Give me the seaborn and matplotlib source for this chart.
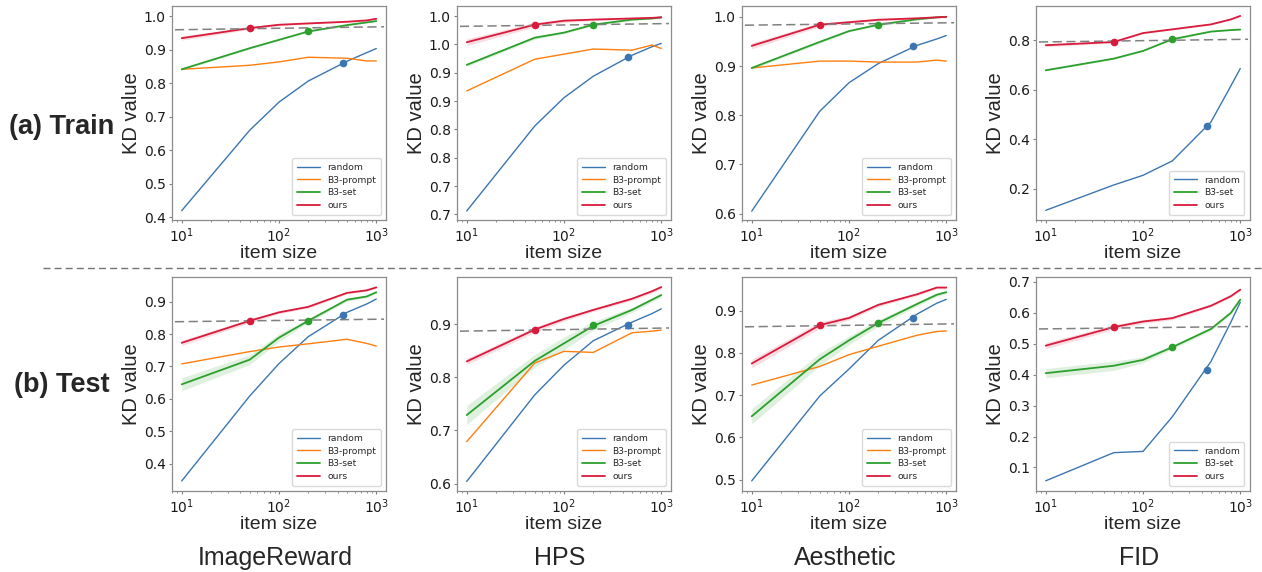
"""
KD value vs. item size for the four reward metrics, train and test splits.
"""

import matplotlib.pyplot as plt
from matplotlib.lines import Line2D
import seaborn as sns

# x grid shared by every curve
item_sizes = [10, 50, 100, 200, 500, 800, 1000]

# where each method first reaches the threshold (dots on the curves)
mark_sizes = {'random': 450, 'B3-set': 200, 'ours': 50}

# ---- (a) Train -------------------------------------------------------------
train_imagereward = {
    'random':    [0.420, 0.660, 0.744, 0.807, 0.866, 0.892, 0.904],
    'B3-prompt': [0.842, 0.854, 0.864, 0.878, 0.875, 0.867, 0.867],
    'B3-set':    [0.842, 0.905, 0.930, 0.955, 0.974, 0.982, 0.986],
    'ours':      [0.935, 0.965, 0.975, 0.979, 0.984, 0.988, 0.993],
}
train_imagereward_marks = {'random': 0.862, 'B3-set': 0.955, 'ours': 0.965}
train_imagereward_thr = [0.960, 0.969]

train_hps = {
    'random':    [0.656, 0.806, 0.856, 0.894, 0.931, 0.946, 0.952],
    'B3-prompt': [0.868, 0.924, 0.933, 0.942, 0.940, 0.949, 0.943],
    'B3-set':    [0.914, 0.962, 0.971, 0.985, 0.994, 0.996, 0.998],
    'ours':      [0.954, 0.985, 0.992, 0.994, 0.996, 0.997, 0.998],
}
train_hps_marks = {'random': 0.928, 'B3-set': 0.985, 'ours': 0.985}
train_hps_thr = [0.982, 0.987]

train_aesthetic = {
    'random':    [0.605, 0.808, 0.866, 0.905, 0.942, 0.955, 0.962],
    'B3-prompt': [0.896, 0.910, 0.910, 0.908, 0.908, 0.912, 0.910],
    'B3-set':    [0.896, 0.949, 0.971, 0.984, 0.995, 0.999, 1.000],
    'ours':      [0.941, 0.984, 0.989, 0.994, 0.997, 0.999, 1.000],
}
train_aesthetic_marks = {'random': 0.940, 'B3-set': 0.984, 'ours': 0.984}
train_aesthetic_thr = [0.983, 0.988]

train_fid = {
    'random': [0.114, 0.216, 0.255, 0.313, 0.470, 0.615, 0.685],
    'B3-set': [0.678, 0.725, 0.756, 0.803, 0.834, 0.840, 0.842],
    'ours':   [0.779, 0.792, 0.828, 0.843, 0.863, 0.883, 0.897],
}
train_fid_marks = {'random': 0.454, 'B3-set': 0.803, 'ours': 0.792}
train_fid_thr = [0.792, 0.803]

# half width of the shaded band (train bands are barely visible)
train_band = {
    'B3-set': [0.003, 0.003, 0.002, 0.002, 0.002, 0.001, 0.001],
    'ours':   [0.006, 0.004, 0.003, 0.002, 0.002, 0.002, 0.002],
}

# ---- (b) Test --------------------------------------------------------------
test_imagereward = {
    'random':    [0.347, 0.609, 0.709, 0.792, 0.867, 0.893, 0.908],
    'B3-prompt': [0.708, 0.746, 0.760, 0.770, 0.784, 0.771, 0.763],
    'B3-set':    [0.645, 0.721, 0.789, 0.841, 0.906, 0.916, 0.929],
    'ours':      [0.773, 0.841, 0.867, 0.884, 0.927, 0.935, 0.944],
}
test_imagereward_band = {
    'B3-set': [0.020, 0.015, 0.012, 0.006, 0.005, 0.004, 0.004],
    'ours':   [0.008, 0.006, 0.004, 0.004, 0.003, 0.003, 0.003],
}
test_imagereward_marks = {'random': 0.860, 'B3-set': 0.841, 'ours': 0.841}
test_imagereward_thr = [0.838, 0.846]

test_hps = {
    'random':    [0.604, 0.767, 0.823, 0.869, 0.904, 0.920, 0.929],
    'B3-prompt': [0.679, 0.827, 0.849, 0.847, 0.884, 0.887, 0.889],
    'B3-set':    [0.729, 0.831, 0.864, 0.897, 0.927, 0.946, 0.955],
    'ours':      [0.830, 0.890, 0.910, 0.927, 0.948, 0.962, 0.970],
}
test_hps_band = {
    'B3-set': [0.018, 0.012, 0.012, 0.008, 0.005, 0.004, 0.004],
    'ours':   [0.006, 0.005, 0.004, 0.003, 0.003, 0.003, 0.003],
}
test_hps_marks = {'random': 0.899, 'B3-set': 0.899, 'ours': 0.890}
test_hps_thr = [0.887, 0.893]

test_aesthetic = {
    'random':    [0.497, 0.698, 0.762, 0.830, 0.892, 0.918, 0.927],
    'B3-prompt': [0.724, 0.768, 0.796, 0.816, 0.842, 0.851, 0.852],
    'B3-set':    [0.650, 0.785, 0.830, 0.871, 0.916, 0.938, 0.944],
    'ours':      [0.775, 0.866, 0.883, 0.914, 0.939, 0.955, 0.955],
}
test_aesthetic_band = {
    'B3-set': [0.018, 0.015, 0.010, 0.008, 0.005, 0.004, 0.004],
    'ours':   [0.010, 0.008, 0.005, 0.004, 0.003, 0.003, 0.003],
}
test_aesthetic_marks = {'random': 0.884, 'B3-set': 0.871, 'ours': 0.866}
test_aesthetic_thr = [0.862, 0.869]

test_fid = {
    'random': [0.057, 0.148, 0.152, 0.264, 0.443, 0.570, 0.634],
    'B3-set': [0.405, 0.429, 0.448, 0.489, 0.548, 0.600, 0.643],
    'ours':   [0.494, 0.554, 0.572, 0.583, 0.623, 0.654, 0.675],
}
test_fid_band = {
    'B3-set': [0.015, 0.015, 0.010, 0.006, 0.006, 0.005, 0.005],
    'ours':   [0.010, 0.008, 0.006, 0.005, 0.004, 0.004, 0.004],
}
test_fid_marks = {'random': 0.416, 'B3-set': 0.489, 'ours': 0.554}
test_fid_thr = [0.548, 0.556]

metric_names = ['ImageReward', 'HPS', 'Aesthetic', 'FID']
row_names = ['(a) Train', '(b) Test']

colors = {'random': '#3b76b2', 'B3-prompt': '#ff7f0e',
          'B3-set': '#2ca02c', 'ours': '#d81b3c'}
widths = {'random': 1.0, 'B3-prompt': 1.0, 'B3-set': 1.3, 'ours': 1.3}


def draw_panel(ax, series, bands, marks, thr, ylim, yticks, ylabels=None):
    """Draw one KD-value panel on a log x axis."""
    ax.set_xscale('log')
    for name, values in series.items():
        sns.lineplot(x=item_sizes, y=values, color=colors[name],
                     lw=widths[name], label=name, ax=ax, errorbar=None)
        if name in bands:
            lo = [v - b for v, b in zip(values, bands[name])]
            hi = [v + b for v, b in zip(values, bands[name])]
            ax.fill_between(item_sizes, lo, hi, color=colors[name],
                            alpha=0.15, lw=0)
    for name, value in marks.items():
        ax.plot([mark_sizes[name]], [value], 'o', color=colors[name],
                ms=4.5, zorder=5)

    ax.set_xlim(10 ** 0.9, 10 ** 3.1)
    ax.set_ylim(*ylim)
    # threshold line (slightly tilted in the original)
    ax.plot([10 ** 0.93, 10 ** 3.08], thr, ls=(0, (6, 3)), color='0.5',
            lw=1.1, scalex=False, scaley=False)

    ax.set_xticks([10, 100, 1000])
    ax.set_yticks(yticks)
    if ylabels is None:
        ylabels = [f'{t:.1f}' for t in yticks]
    ax.set_yticklabels(ylabels)
    ax.tick_params(which='both', color='0.5', labelcolor='0.1',
                   labelsize=10, direction='out', pad=2)
    ax.tick_params(which='major', length=2.5, width=0.8)
    ax.tick_params(which='minor', length=1.5, width=0.6)
    for spine in ax.spines.values():
        spine.set_color('0.55')
        spine.set_linewidth(0.9)

    ax.set_xlabel('item size', fontsize=14, family=['Liberation Sans'],
                  labelpad=0)
    ax.set_ylabel('KD value', fontsize=14.5, family=['Liberation Sans'],
                  labelpad=2)
    ax.legend(loc='lower right', fontsize=6.6, handlelength=2.5,
              frameon=True, edgecolor='0.82', borderpad=0.5,
              labelspacing=0.4, borderaxespad=0.6)


sns.set_style('white', {'xtick.bottom': True, 'ytick.left': True})
plt.rcParams['font.family'] = ['DejaVu Sans']

W, H = 1262, 572
figure = plt.figure(figsize=(W / 100, H / 100), dpi=100)

# axes boxes in pixels: left edges, top edges, size
lefts = [172, 457, 742, 1036]
tops = [6, 277]
size_w, size_h = 214, 214

panels = [
    (0, 0, train_imagereward, train_band, train_imagereward_marks,
     train_imagereward_thr, (0.392, 1.031), [0.4, 0.5, 0.6, 0.7, 0.8, 0.9, 1.0], None),
    (0, 1, train_hps, train_band, train_hps_marks, train_hps_thr,
     (0.640, 1.018), [0.65, 0.70, 0.75, 0.80, 0.85, 0.90, 0.95, 1.00],
     ['0.7', '0.7', '0.8', '0.8', '0.9', '0.9', '1.0', '1.0']),
    (0, 2, train_aesthetic, train_band, train_aesthetic_marks,
     train_aesthetic_thr, (0.587, 1.022), [0.6, 0.7, 0.8, 0.9, 1.0], None),
    (0, 3, train_fid, train_band, train_fid_marks, train_fid_thr,
     (0.075, 0.937), [0.2, 0.4, 0.6, 0.8], None),
    (1, 0, test_imagereward, test_imagereward_band, test_imagereward_marks,
     test_imagereward_thr, (0.316, 0.976), [0.4, 0.5, 0.6, 0.7, 0.8, 0.9], None),
    (1, 1, test_hps, test_hps_band, test_hps_marks, test_hps_thr,
     (0.586, 0.989), [0.6, 0.7, 0.8, 0.9], None),
    (1, 2, test_aesthetic, test_aesthetic_band, test_aesthetic_marks,
     test_aesthetic_thr, (0.473, 0.980), [0.5, 0.6, 0.7, 0.8, 0.9], None),
    (1, 3, test_fid, test_fid_band, test_fid_marks, test_fid_thr,
     (0.024, 0.716), [0.1, 0.2, 0.3, 0.4, 0.5, 0.6, 0.7], None),
]

for row, col, series, bands, marks, thr, ylim, yticks, ylabels in panels:
    x0, y0 = lefts[col], tops[row]
    ax = figure.add_axes([x0 / W, 1 - (y0 + size_h) / H, size_w / W, size_h / H])
    draw_panel(ax, series, bands, marks, thr, ylim, yticks, ylabels)

# dashed separator between train and test rows
figure.add_artist(Line2D([43 / W, 1.0], [1 - 268 / H] * 2, ls=(0, (5, 3)),
                         color='0.45', lw=1.0))

for row, name in enumerate(row_names):
    figure.text(62 / W, 1 - [127, 385][row] / H, name, fontsize=19.5,
                fontweight='bold', ha='center', va='center',
                family=['Liberation Sans'])

for col, name in enumerate(metric_names):
    figure.text((lefts[col] + size_w / 2 - 4) / W, 1 - 558 / H, name,
                fontsize=18, ha='center', va='center',
                family=['Liberation Sans'])

figure.savefig('out.png', dpi=100)
